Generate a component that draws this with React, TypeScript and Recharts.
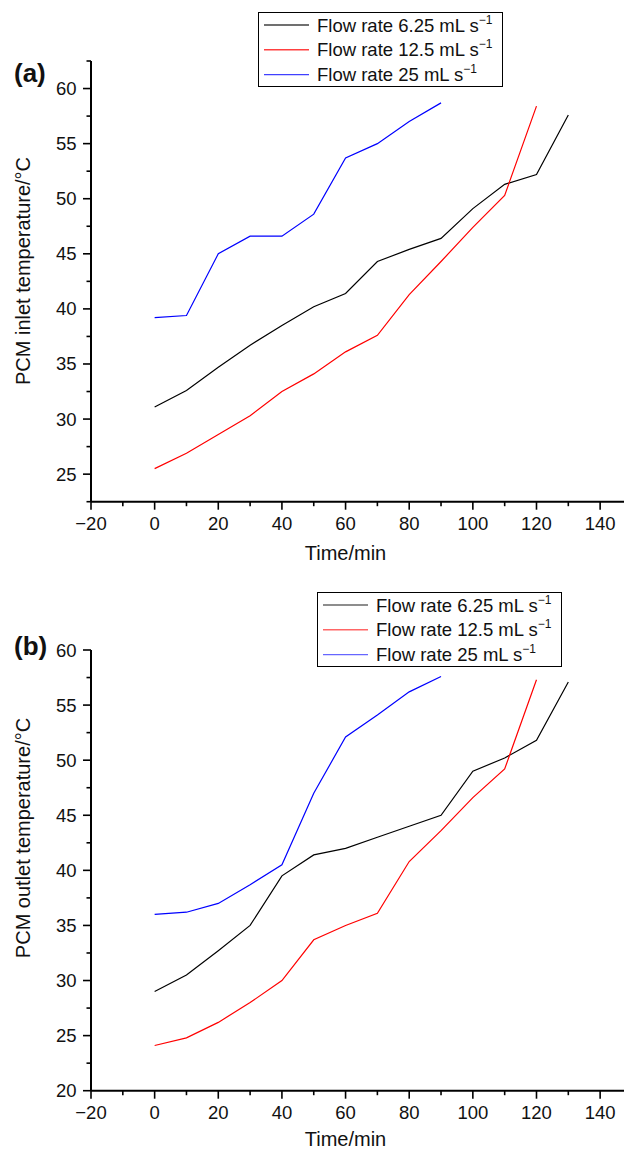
import React from 'react';
import { LineChart, Line, XAxis, YAxis, Legend } from 'recharts';

const FONT = '"Liberation Sans", Arial, Helvetica, sans-serif';

// Sampling times (min)
const times = [0, 10, 20, 30, 40, 50, 60, 70, 80, 90, 100, 110, 120, 130];

// Flow rates (mL s^-1) and their line colours
const flowRates = ['6.25', '12.5', '25'];
const seriesColors = ['#000000', '#ff0000', '#0000ff'];

// (a) PCM inlet temperature (°C)
const inlet625 = [31.1, 32.6, 34.7, 36.7, 38.5, 40.2, 41.4, 44.3, 45.4, 46.4, 49.1, 51.3, 52.2, 57.6];
const inlet125 = [25.5, 26.9, 28.6, 30.3, 32.5, 34.1, 36.1, 37.6, 41.3, 44.3, 47.4, 50.3, 58.4];
const inlet25 = [39.2, 39.4, 45.0, 46.6, 46.6, 48.6, 53.7, 55.0, 57.0, 58.7];

// (b) PCM outlet temperature (°C)
const outlet625 = [29.0, 30.5, 32.7, 35.0, 39.5, 41.4, 42.0, 43.0, 44.0, 45.0, 49.0, 50.2, 51.8, 57.1];
const outlet125 = [24.1, 24.8, 26.2, 28.0, 30.0, 33.7, 35.0, 36.1, 40.8, 43.6, 46.6, 49.2, 57.3];
const outlet25 = [36.0, 36.2, 37.0, 38.7, 40.5, 47.0, 52.1, 54.1, 56.2, 57.6];

// Axis ticks (majors are labelled, minors are short marks)
const xTicks = [-20, -10, 0, 10, 20, 30, 40, 50, 60, 70, 80, 90, 100, 110, 120, 130, 140];
const inletTicks = [22.5, 25, 27.5, 30, 32.5, 35, 37.5, 40, 42.5, 45, 47.5, 50, 52.5, 55, 57.5, 60, 62.5];
const outletTicks = [20, 22.5, 25, 27.5, 30, 32.5, 35, 37.5, 40, 42.5, 45, 47.5, 50, 52.5, 55, 57.5, 60];

function buildRows(series: number[][]) {
  return times.map((t, i) => ({
    t,
    s0: series[0][i],
    s1: series[1][i],
    s2: series[2][i],
  }));
}

const rowsA = buildRows([inlet625, inlet125, inlet25]);
const rowsB = buildRows([outlet625, outlet125, outlet25]);

const fmt = (v: number) => (v < 0 ? '\u2212' + Math.abs(v) : String(v));

const XTick = (props: any) => {
  const { x, y, payload } = props;
  const v = payload.value;
  const major = v % 20 === 0;
  return (
    <g>
      <line x1={x} x2={x} y1={y} y2={y + (major ? 8 : 4.5)} stroke="#000" strokeWidth={1.6} />
      {major && (
        <text x={x} y={y + 22} textAnchor="middle" dominantBaseline="central" fontSize={18.5} fontFamily={FONT} fill="#111">
          {fmt(v)}
        </text>
      )}
    </g>
  );
};

const YTick = (props: any) => {
  const { x, y, payload } = props;
  const v = payload.value;
  const major = v % 5 === 0;
  return (
    <g>
      <line x1={x - (major ? 8 : 4.5)} x2={x} y1={y} y2={y} stroke="#000" strokeWidth={1.6} />
      {major && (
        <text x={x - 14.5} y={y} textAnchor="end" dominantBaseline="central" fontSize={18.5} fontFamily={FONT} fill="#111">
          {fmt(v)}
        </text>
      )}
    </g>
  );
};

const makeLegend = (opacity: number) => (props: any) => {
  const payload = [...(props.payload || [])].sort((a: any, b: any) =>
    String(a.dataKey).localeCompare(String(b.dataKey))
  );
  return (
    <svg width={245} height={75} style={{ display: 'block', overflow: 'visible' }}>
      <rect x={0.5} y={0.5} width={244} height={74} fill="#fff" stroke="#000" strokeWidth={1} />
      {payload.map((e: any, i: number) => {
        const cy = 13 + 24.8 * i;
        return (
          <g key={i}>
            <line x1={6} x2={51} y1={cy} y2={cy} stroke={e.color} strokeOpacity={opacity} strokeWidth={1.4} />
            <text x={59} y={cy + 6.5} fontSize={18.5} fontFamily={FONT} fill="#111">
              {e.value}
              <tspan dy={-8} fontSize={12}>{'\u22121'}</tspan>
            </text>
          </g>
        );
      })}
    </svg>
  );
};

type PanelProps = {
  rows: any[];
  top: number;
  height: number;
  marginTop: number;
  xAxisHeight: number;
  yDomain: [number, number];
  yTicks: number[];
  legendPos: { top: number; left: number };
  legendOpacity: number;
};

function Panel({ rows, top, height, marginTop, xAxisHeight, yDomain, yTicks, legendPos, legendOpacity }: PanelProps) {
  return (
    <div style={{ position: 'absolute', left: 0, top, width: 624, height }}>
      <LineChart width={624} height={height} data={rows} margin={{ top: marginTop, right: 0, bottom: 0, left: 0 }}>
        <XAxis
          dataKey="t"
          type="number"
          domain={[-20, 147.5]}
          ticks={xTicks}
          interval={0}
          allowDataOverflow
          tick={(p: any) => <XTick {...p} />}
          tickLine={false}
          tickSize={0}
          tickMargin={0}
          axisLine={{ stroke: '#000', strokeWidth: 2 }}
          height={xAxisHeight}
        />
        <YAxis
          type="number"
          domain={yDomain}
          ticks={yTicks}
          interval={0}
          allowDataOverflow
          tick={(p: any) => <YTick {...p} />}
          tickLine={false}
          tickSize={0}
          tickMargin={0}
          axisLine={{ stroke: '#000', strokeWidth: 2 }}
          width={91}
        />
        <Legend
          layout="vertical"
          align="center"
          verticalAlign="middle"
          wrapperStyle={{ top: legendPos.top, left: legendPos.left, width: 245, height: 75 }}
          content={makeLegend(legendOpacity)}
        />
        {flowRates.map((rate, i) => (
          <Line
            key={rate}
            dataKey={'s' + i}
            name={`Flow rate ${rate} mL s`}
            type="linear"
            stroke={seriesColors[i]}
            strokeWidth={1.2}
            dot={false}
            activeDot={false}
            isAnimationActive={false}
          />
        ))}
      </LineChart>
    </div>
  );
}

export default function App() {
  return (
    <div style={{ position: 'absolute', left: 0, top: 0, width: 624, height: 1151, background: '#fff', overflow: 'hidden' }}>
      <Panel
        rows={rowsA}
        top={0}
        height={580}
        marginTop={61}
        xAxisHeight={78.3}
        yDomain={[22.5, 62.5]}
        yTicks={inletTicks}
        legendPos={{ top: 12.3, left: 258.3 }}
        legendOpacity={0.75}
      />
      <Panel
        rows={rowsB}
        top={580}
        height={571}
        marginTop={70}
        xAxisHeight={60.3}
        yDomain={[20, 60]}
        yTicks={outletTicks}
        legendPos={{ top: 11.7, left: 316.7 }}
        legendOpacity={0.6}
      />
      <svg width={624} height={1151} style={{ position: 'absolute', left: 0, top: 0, pointerEvents: 'none' }}>
        <g fontFamily={FONT} fill="#111">
          <text x={14} y={82} fontSize={26} fontWeight="bold">(a)</text>
          <text x={14} y={655} fontSize={26} fontWeight="bold">(b)</text>
          <text x={345.5} y={560} fontSize={20} textAnchor="middle">Time/min</text>
          <text x={345.5} y={1146} fontSize={20} textAnchor="middle">Time/min</text>
          <text x={30} y={271} fontSize={20} textAnchor="middle" transform="rotate(-90 30 271)">PCM inlet temperature/°C</text>
          <text x={30} y={838} fontSize={20} textAnchor="middle" transform="rotate(-90 30 838)">PCM outlet temperature/°C</text>
        </g>
      </svg>
    </div>
  );
}
